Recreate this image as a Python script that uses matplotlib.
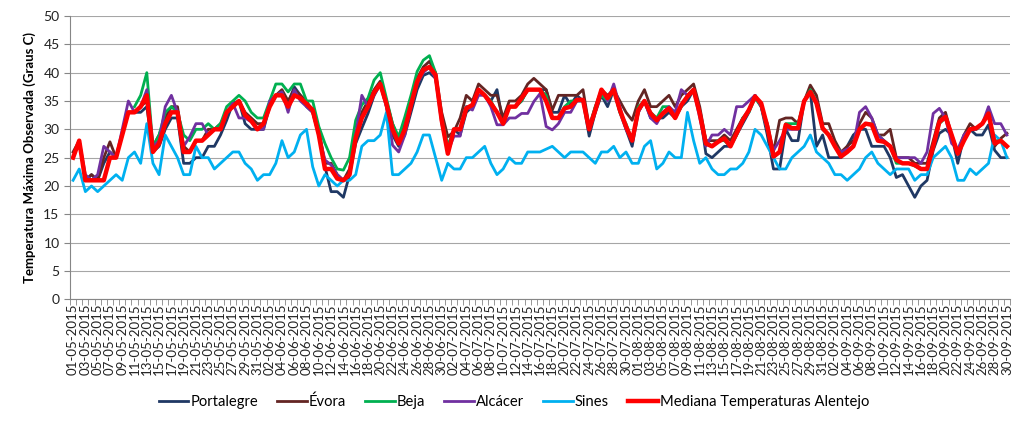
import numpy as np
import pandas as pd
import matplotlib
matplotlib.use("Agg")
import matplotlib.pyplot as plt
from matplotlib.ticker import FixedLocator, MultipleLocator

plt.rcParams['font.family'] = ['Lato', 'DejaVu Sans']

dates = pd.date_range("2015-05-01", "2015-09-30", freq="D")
date_labels = [d.strftime("%d-%m-%Y") for d in dates]

nan = np.nan
mediana = [25, 28, 21, 21, 21, 21, 25, 25, 29, 33, 33, 34, 36, 26, 27.5, 31, 33, 33, 26, 26,
           28, 28, 29, 30, 30, 33, 34, 35, 32.5, 31.5, 30, 31, 34, 36, 36, 34, 36, 35.5, 34.5, 33.4,
           29, 23, 23, 21.3, 21, 22, 28.5, 32, 34, 36.5, 38, 34.5, 30, 27.5, 30, 34.3, 38.4, 40.5, 41, 39.6,
           31.6, 25.7, 30, 30, 33.7, 34.3, 37, 36, 34.6, 33, 31, 34, 34, 35.5, 37, 37, 37, 35, 32, 32,
           33.7, 34, 35.2, 35.2, 30, 33.4, 37, 35.5, 37, 33.4, 30.5, 28, 33.4, 35, 32.8, 31.6, 32.8, 33.7, 32, 34.3,
           35.8, 37, 32.8, 27.5, 27, 27.8, 28.4, 27, 29.3, 31.6, 33.4, 35.8, 34.6, 30.5, 25.2, 26, 30.8, 30.2, 30.2, 35,
           36.6, 34.6, 30.2, 29, 27, 25.2, 26, 27, 30, 31, 30.8, 28, 27.8, 27, 24.6, 24, 24, 23.7, 23, 23,
           27, 31.3, 32.2, 29, 25.7, 28, 30, 30.2, 31, 32.8, 27.5, 28, 27]

sines = [21, 23, 19, 20, 19, 20, 21, 22, 21, 25, 26, 24, 31, 24, 22, 29, 27, 25, 22, 22,
         27, 25, 25, 23, 24, 25, 26, 26, 24, 23, 21, 22, 22, 24, 28, 25, 26, 29, 30, 23.4,
         20, 22, 21, 20, 21, 21, 22, 27, 28, 28, 29, 33, 22, 22, 23, 24, 26, 29, 29, 25,
         21, 24, 23, 23, 25, 25, 26, 27, 24, 22, 23, 25, 24, 24, 26, 26, 26, 26.5, 27, 26,
         25, 26, 26, 26, 25, 24, 26, 26, 27, 25, 26, 24, 24, 27, 28, 23, 24, 26, 25, 25,
         33, 28, 24, 25, 23, 22, 22, 23, 23, 24, 26, 30, 29, 27, 25, 23, 23, 25, 26, 27,
         29, 26, 25, 24, 22, 22, 21, 22, 23, 25, 26, 24, 23, 22, 23, 23, 23, 21, 22, 22,
         25, 26, 27, 25, 21, 21, 23, 22, 23, 24, 29, 28, 25]

portalegre = [25, 28, 21, 22, 21, 24, 26, 25, 29, 33, 33, 33, 34, 26, 27, 30, 32, 32, 24, 24,
              25, 25, 27, 27, 29, 31.6, 34.6, 35, 31, 30, 30, 30, 34, 36, 36, 34.6, 37.5, 36, 34, 33,
              29, 23.4, 19, 19, 18, 22, 27.5, 30.2, 32.8, 36, 38, 34, 29, 27, 29, 33, 37, 39.5, 40, 39,
              32, 27, 30, 29, 33, 34, 37, 36, 35, 37, 31, 34, 34, 35, 37, 37, 37, 37, 33, 33,
              36, 34.3, 36, 35, 28.8, 33, 36, 34, 37, 33, 30, 27, 33, 35, 32, 32, 32, 33, 32, 34,
              35, 37, 33, 25.7, 25, 26, 27, 27, 29, 31, 33, 36, 34, 29, 23, 23, 30, 28, 28, 35,
              36.6, 27, 29, 25, 25, 25, 27, 29, 30, 30, 27, 27, 27, 25, 21.5, 22, 20, 18, 20, 21,
              26.3, 29.3, 30, 29, 24, 28.7, 30, 29, 29, 30.8, 26.3, 25, 25]

evora = [26, 28, 21, 22, 21, 25, 27.8, 25, 29, 33, 33, 34, 35, 27, 29, 32, 34, 34, 27, 26,
         28, 28, 30, 30, 31, 33, 34, 35, 33, 32, 31, 31, 34, 36, 37, 35, 37, 36, 35, 33,
         30, 24, 24, 22, 21, 23, 29, 33, 35, 37, 38.5, 35, 31, 28, 31, 35, 39, 41, 42, 40,
         33, 28.7, 29.6, 32, 36, 35, 38, 37, 36, 36, 32, 35, 35, 36, 38, 39, 38, 37, 33.4, 36,
         36, 36, 36, 37, 30.5, 34, 37, 36, 37, 35, 33, 31.6, 35, 37, 34, 34, 35, 36, 34, 36,
         37, 38, 34, 28, 28, 28, 29, 28, 30, 32, 33.4, 36, 34, 31, 26, 31.6, 32, 32, 31, 35,
         37.8, 36, 31, 31, 28, 26, 27, 28, 31, 33, 32, 29, 29, 30, 25, 25, 25, 24, 24, 24,
         28, 32, 33, 29, 26, 29, 31, 30, 31, 32.8, 27, 28.4, 29.3]

beja = [nan, nan, nan, nan, nan, nan, nan, nan, nan, nan, 34, 36, 40, 27, 29, 33, 34, 33, 29, 28,
        30, 30, 31, 30, 31, 34, 35, 36, 35, 33, 32, 32, 35, 38, 38, 36.6, 38, 38, 35, 35,
        30.5, 27.5, 25, 23, 22.8, 25, 31.6, 34.3, 35.5, 38.7, 40, 35.5, 31, 28.7, 32.2, 36, 40.2, 42.2, 43, 40,
        32, 27, 30, 30, 34, 34, 37, 36, 35, 33, 31, 34, 34, 35, 37, 37, 37, 36, 32, 32,
        34, 35, 35, 35, 30, 34, 36, 35, 37, 33, 31, 28, 34, 35, 33, 32, 34, 34, 32, 34,
        36, 37, 33, 28, 27, 28, 28, 27, 29, 32, 33, 35.5, 34, 30, 25, 26, 31, 31, 31, 35,
        37, 35, 30, 29, 27, 26, 26, 27, 30, 31, 31, 29, 28, 27, 24, 24, 24, 23.5, 23, 23,
        27, 31, 32, 29, 26, 28, 30, 30, 31, 33, 28, 28, 27]

alcacer = [25, 28, 22, 21, 22, 27, 26, 25, 30, 35, 33, 34, 37, 27, 28, 34, 36, 33, 27, 28.7,
           31, 31, 29, 30, 30, 33, 34.6, 32, 32, 31.3, 30, 30, 35, 36, 36.6, 33, 37, 35, 34, 33,
           29, 24.6, 23.7, 22, 21, 22, 29, 36, 34, 36, 38, 34, 27.2, 26, 29, 34, 38, 40, 41, 39,
           31, 26, 28.8, 28.8, 34, 33.4, 36, 36, 34, 30.8, 30.8, 32, 32, 32.8, 32.8, 34.9, 36.3, 30.5, 29.9, 31,
           33, 33, 35, 35, 30, 33, 37, 35, 38, 34, 30, 28, 33, 35, 32, 31, 33, 34, 33, 37,
           36, 37, 32, 27, 29, 29, 30, 29, 34, 34, 35, 36, 34, 30, 26.3, 28, 30, 30, 30, 35,
           36.6, 35, 30, 29, 27, 26, 26.5, 27, 33, 34, 32, 29, 28, 27, 25, 25, 25, 25, 24, 26,
           32.8, 33.7, 32, 27.5, 26.5, 29, 30, 30, 31, 34, 31, 31, 29]

series = [
    ("Portalegre", portalegre, "#1F3864", 2.0),
    ("Évora", evora, "#632523", 2.0),
    ("Beja", beja, "#00B050", 2.0),
    ("Alcácer", alcacer, "#7030A0", 2.0),
    ("Sines", sines, "#00B0F0", 2.0),
    ("Mediana Temperaturas Alentejo", mediana, "#FF0000", 3.2),
]

fig = plt.figure(figsize=(10.24, 4.25), dpi=100)
ax = fig.add_axes([70 / 1024, 1 - 299.3 / 425, 940 / 1024, 283.3 / 425])

x = np.arange(len(dates))
for name, vals, col, lw in series:
    ax.plot(x, vals, color=col, lw=lw, label=name, solid_joinstyle='round')

ax.set_xlim(-0.5, len(dates) - 0.5)
ax.set_ylim(0, 50)
ax.yaxis.set_major_locator(MultipleLocator(5))
ax.grid(axis='y', color='#A6A6A6', lw=0.8)
ax.set_axisbelow(True)
for s in ['top', 'right']:
    ax.spines[s].set_visible(False)
ax.spines['left'].set_color('#868686')
ax.spines['bottom'].set_color('#868686')

ax.set_xticks(x[::2])
ax.set_xticklabels(date_labels[::2], rotation=90, fontsize=9.5, color='#222222')
ax.tick_params(axis='x', length=0, pad=3)
ax.xaxis.set_minor_locator(FixedLocator(np.arange(-0.5, len(dates), 1)))
ax.tick_params(axis='x', which='minor', length=4, color='#868686')
ax.tick_params(axis='y', length=4, color='#868686', labelsize=10, labelcolor='#222222')

ax.set_ylabel("Temperatura Máxima Observada (Graus C)", fontsize=9.5, fontweight='bold', labelpad=5)

ax.legend(loc='center', bbox_to_anchor=(514 / 1024, 23 / 425), bbox_transform=fig.transFigure,
          ncol=6, frameon=False, fontsize=10.6, handlelength=2.0, columnspacing=1.3, handletextpad=0.15)

fig.savefig("out.png", dpi=100)
